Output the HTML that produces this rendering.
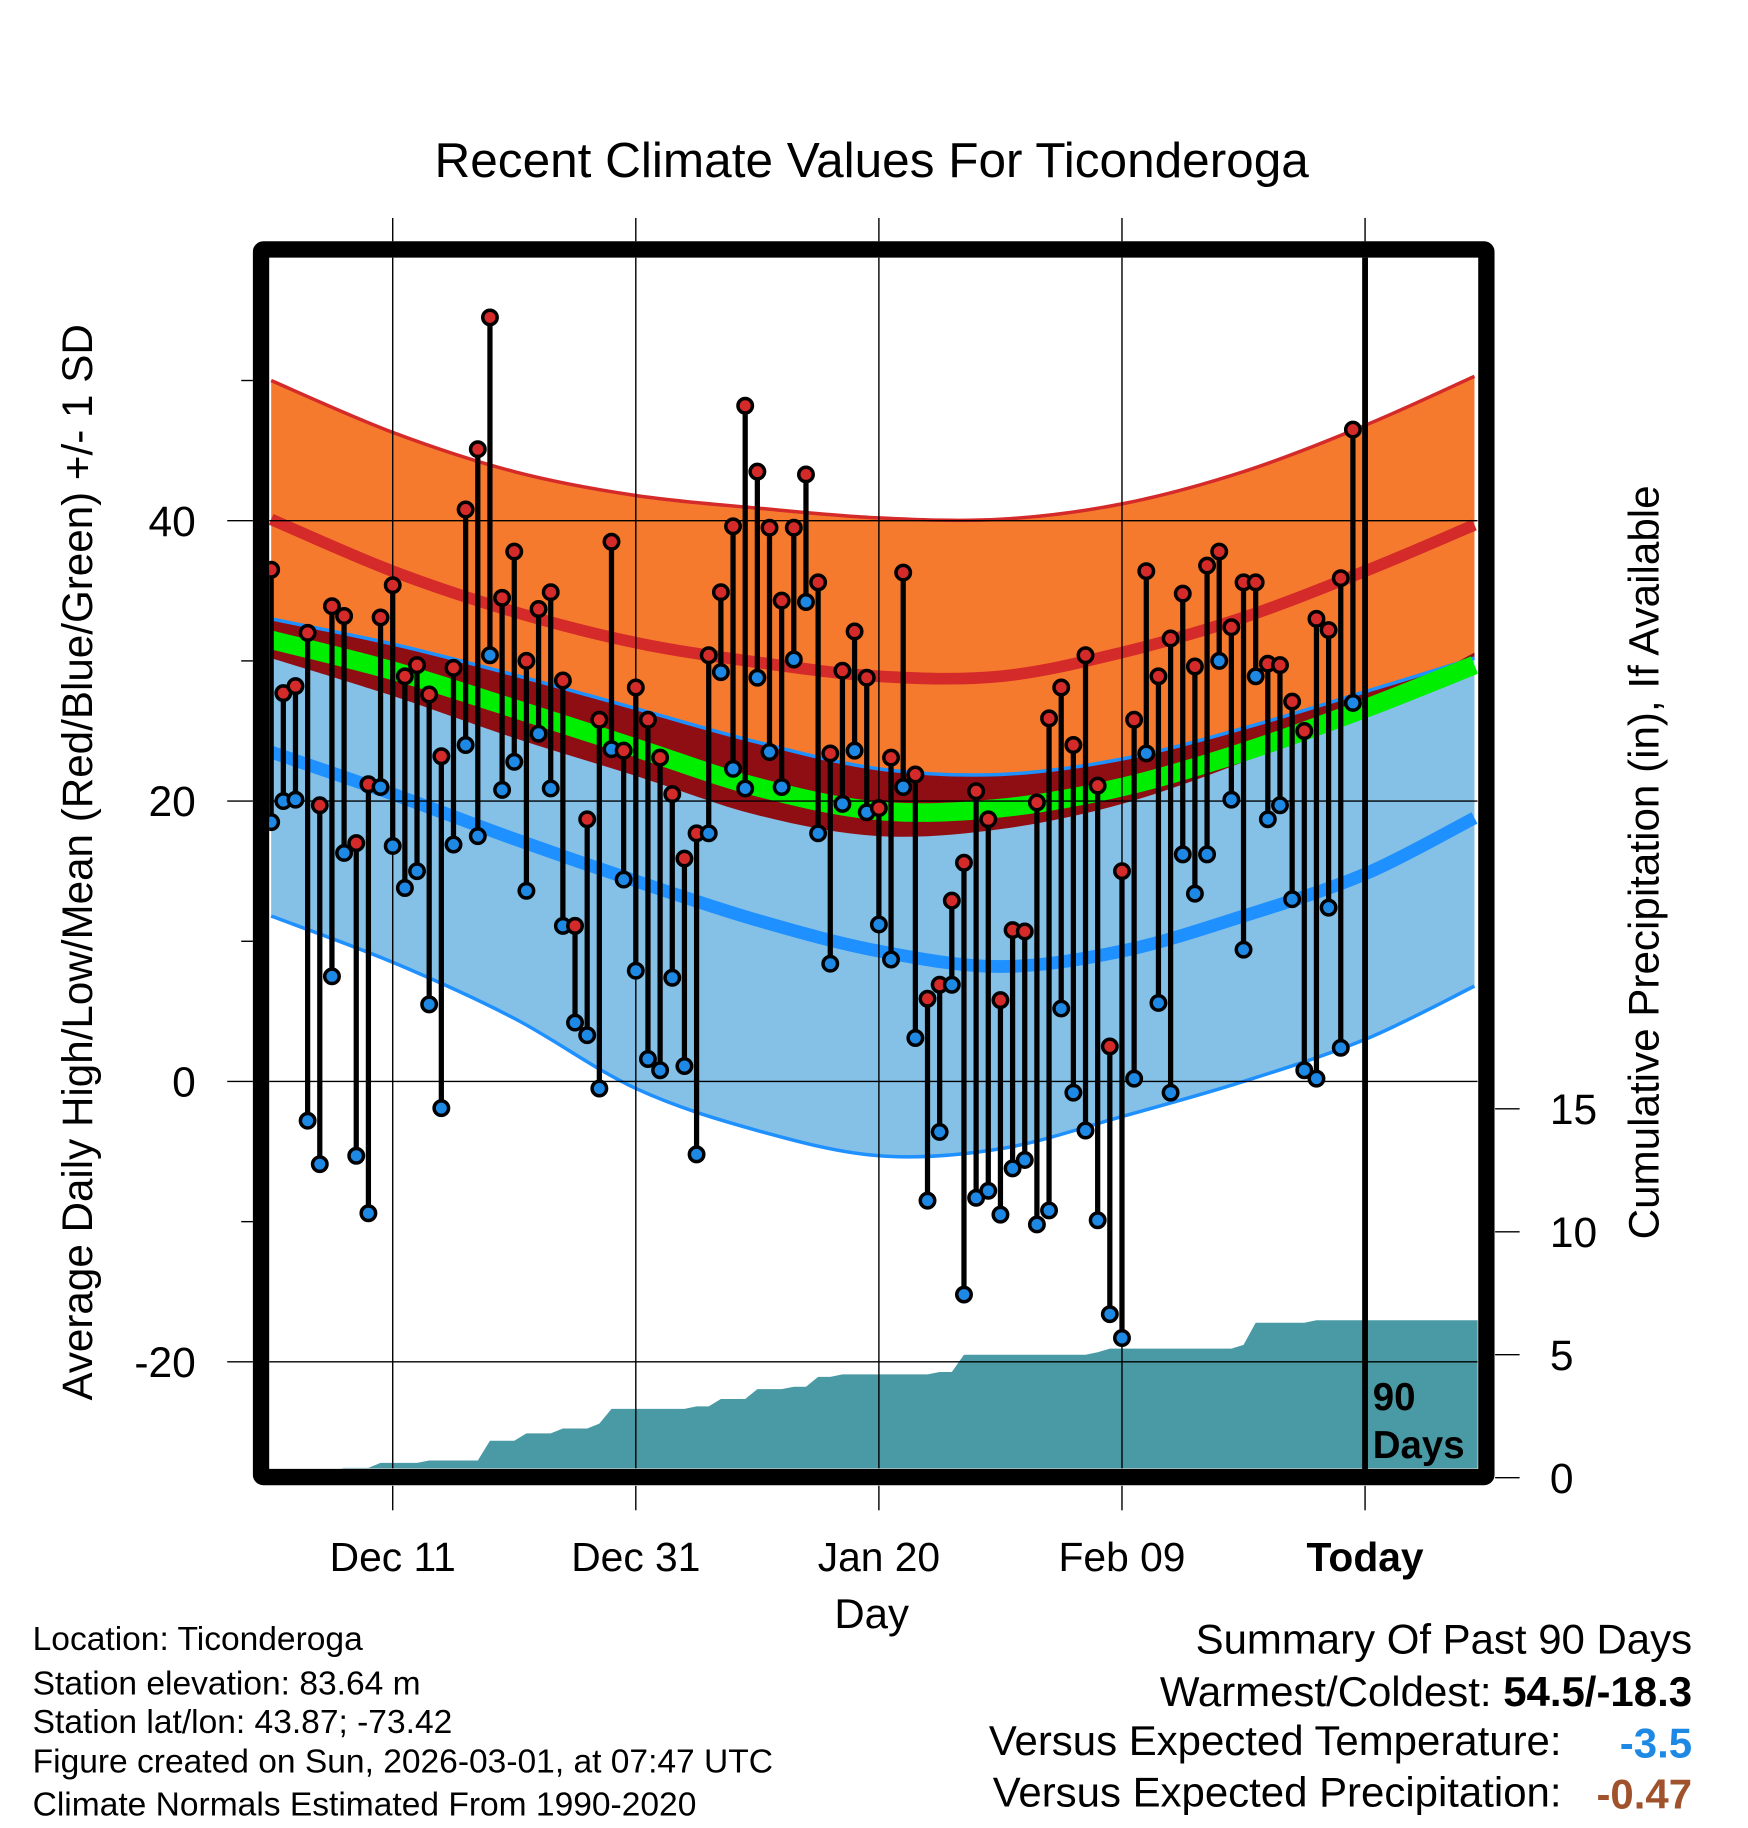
<!DOCTYPE html>
<html><head><meta charset="utf-8"><style>
html,body{margin:0;padding:0;background:#fff;}
svg{display:block;font-family:"Liberation Sans",sans-serif;}
</style></head><body>
<svg id="chart" width="1748" height="1828" viewBox="0 0 1500 1568.6" xmlns="http://www.w3.org/2000/svg">
<defs><clipPath id="plotclip"><rect x="231" y="221" width="1037" height="1039"/></clipPath></defs>
<rect x="0" y="0" width="1500" height="1568.6" fill="#fff"/>
<text x="748" y="152" font-size="42.5" text-anchor="middle">Recent Climate Values For Ticonderoga</text>
<g id="plot" clip-path="url(#plotclip)"></g>
<g id="over"></g>
<rect x="224" y="214" width="1051.5" height="1053.5" rx="2" fill="none" stroke="#000" stroke-width="14"/>
<g id="axes"></g>
<text x="748" y="1397" font-size="36" text-anchor="middle">Day</text>
<text transform="translate(79,740) rotate(-90)" font-size="36.2" text-anchor="middle">Average Daily High/Low/Mean (Red/Blue/Green) +/- 1 SD</text>
<text transform="translate(1423,740) rotate(-90)" font-size="36.2" text-anchor="middle">Cumulative Precipitation (in), If Available</text>
<text x="1178" y="1210" font-size="33" font-weight="bold">90</text>
<text x="1178" y="1251" font-size="33" font-weight="bold">Days</text>
<g font-size="28.8">
<text x="28" y="1416">Location: Ticonderoga</text>
<text x="28" y="1454">Station elevation: 83.64 m</text>
<text x="28" y="1487">Station lat/lon: 43.87; -73.42</text>
<text x="28" y="1521">Figure created on Sun, 2026-03-01, at 07:47 UTC</text>
<text x="28" y="1558">Climate Normals Estimated From 1990-2020</text>
</g>
<g font-size="36">
<text x="1452" y="1419" text-anchor="end">Summary Of Past 90 Days</text>
<text x="1452" y="1464" text-anchor="end">Warmest/Coldest: <tspan font-weight="bold">54.5/-18.3</tspan></text>
<text x="1340" y="1506" text-anchor="end">Versus Expected Temperature:</text>
<text x="1452" y="1508" text-anchor="end" font-weight="bold" fill="#1e88e5">-3.5</text>
<text x="1340" y="1550" text-anchor="end">Versus Expected Precipitation:</text>
<text x="1452" y="1552" text-anchor="end" font-weight="bold" fill="#a0522d">-0.47</text>
</g>
</svg>
<script>
const normDays = [0,10,20,30,40,50,60,70,80,90,99];
const highUp = [50,46.3,43.5,41.8,40.9,40.2,40.1,41.2,43.5,46.8,50.3];
const highMean = [40.1,36.4,33.5,31.3,29.9,28.9,28.9,30.6,33.1,36.4,39.7];
const highDn = [30.2,27.5,24.5,21.8,19.0,17.5,18.0,19.8,22.8,26.5,30.6];
const meanT = [31.5,29.3,26.6,23.8,21.0,19.3,19.5,21.0,23.5,26.6,29.7];
const lowUp = [33.0,31.2,29.0,26.6,24.2,22.3,21.9,23.0,25.2,27.8,30.2];
const lowMean = [23.5,20.5,17.3,14.3,11.5,9.3,8.2,9.3,11.8,14.8,18.8];
const lowDn = [11.8,8.5,4.5,-0.5,-3.5,-5.3,-4.8,-2.5,0.0,3.0,6.8];
const highs = [36.5,27.7,28.2,32,19.7,33.9,33.2,17,21.2,33.1,35.4,28.9,29.7,27.6,23.2,29.5,40.8,45.1,54.5,34.5,37.8,30,33.7,34.9,28.6,11.1,18.7,25.8,38.5,23.6,28.1,25.8,23.1,20.5,15.9,17.7,30.4,34.9,39.6,48.2,43.5,39.5,34.3,39.5,43.3,35.6,23.4,29.3,32.1,28.8,19.5,23.1,36.3,21.9,5.9,6.9,12.9,15.6,20.7,18.7,5.8,10.8,10.7,19.9,25.9,28.1,24,30.4,21.1,2.5,15,25.8,36.4,28.9,31.6,34.8,29.6,36.8,37.8,32.4,35.6,35.6,29.8,29.7,27.1,25,33,32.2,35.9,46.5];
const lows = [18.5,20,20.1,-2.8,-5.9,7.5,16.3,-5.3,-9.4,21,16.8,13.8,15,5.5,-1.9,16.9,24,17.5,30.4,20.8,22.8,13.6,24.8,20.9,11.1,4.2,3.3,-0.5,23.7,14.4,7.9,1.6,0.8,7.4,1.1,-5.2,17.7,29.2,22.3,20.9,28.8,23.5,21,30.1,34.2,17.7,8.4,19.8,23.6,19.2,11.2,8.7,21,3.1,-8.5,-3.6,6.9,-15.2,-8.3,-7.8,-9.5,-6.2,-5.6,-10.2,-9.2,5.2,-0.8,-3.5,-9.9,-16.6,-18.3,0.2,23.4,5.6,-0.8,16.2,13.4,16.2,30,20.1,9.4,28.9,18.7,19.7,13,0.8,0.2,12.4,2.4,27];
const precip = [0.3,0.3,0.3,0.3,0.3,0.3,0.4,0.4,0.4,0.6,0.6,0.6,0.6,0.7,0.7,0.7,0.7,0.7,1.5,1.5,1.5,1.8,1.8,1.8,2.0,2.0,2.0,2.2,2.8,2.8,2.8,2.8,2.8,2.8,2.8,2.9,2.9,3.2,3.2,3.2,3.6,3.6,3.6,3.7,3.7,4.1,4.1,4.2,4.2,4.2,4.2,4.2,4.2,4.2,4.2,4.3,4.3,5.0,5.0,5.0,5.0,5.0,5.0,5.0,5.0,5.0,5.0,5.0,5.1,5.25,5.25,5.25,5.25,5.25,5.25,5.25,5.25,5.25,5.25,5.25,5.4,6.3,6.3,6.3,6.3,6.3,6.4,6.4,6.4,6.4];
const yTicks = [40,20,0,-20];
const yMinor = [50,30,10,-10];
const pTicks = [0,5,10,15];
const xTickDays = [10,30,50,70,90];
const xTickLabels = ["Dec 11","Dec 31","Jan 20","Feb 09","Today"];

const NS="http://www.w3.org/2000/svg";
const X = d => 232.7 + 10.43*d;
const Y = v => 928 - 12.03*v;
const P = p => 1268 - 21.1*p;
const plot=document.getElementById('plot'), axes=document.getElementById('axes'), over=document.getElementById('over');
function mk(tag, attrs, parent){const e=document.createElementNS(NS,tag);for(const k in attrs)e.setAttribute(k,attrs[k]);parent.appendChild(e);return e;}
function pts(arr){return normDays.map((d,i)=>[X(d),Y(arr[i])]);}
function spline(p){let s=`M${p[0][0]},${p[0][1]}`;for(let i=0;i<p.length-1;i++){const p0=p[i-1]||p[i],p1=p[i],p2=p[i+1],p3=p[i+2]||p2;const c1=[p1[0]+(p2[0]-p0[0])/6,p1[1]+(p2[1]-p0[1])/6],c2=[p2[0]-(p3[0]-p1[0])/6,p2[1]-(p3[1]-p1[1])/6];s+=` C${c1[0]},${c1[1]} ${c2[0]},${c2[1]} ${p2[0]},${p2[1]}`;}return s;}
function splineRev(p){return spline(p.slice().reverse()).replace(/^M/,' L');}
function band(a,b,fill,name){const e=mk('path',{d:spline(pts(a))+splineRev(pts(b))+' Z',fill:fill},plot);}
function line(a,color,w,name){const e=mk('path',{d:spline(pts(a)),fill:'none',stroke:color,'stroke-width':w},plot);}

band(highUp,highDn,'#f57a2d','high-sd-band');
band(lowUp,lowDn,'#85c1e6','low-sd-band');
band(lowUp,highDn,'#8f0e14','overlap-band');
line(highUp,'#d42a2a',3,'high-plus-sd-line');
line(highMean,'#d42a2a',10,'high-mean-line');
line(lowUp,'#1e90ff',3,'low-plus-sd-line');
line(lowDn,'#1e90ff',3,'low-minus-sd-line');
line(lowMean,'#1e90ff',11,'low-mean-line');
line(meanT,'#00ee00',16,'mean-line');

let pd=`M${X(0)-3},1262`;
precip.forEach((v,i)=>{pd+=` L${i===0?X(0)-3:X(i)},${P(v)}`;});
pd+=` L1270,${P(precip[precip.length-1])} L1270,1262 Z`;
const pp=mk('path',{d:pd,fill:'#4a9aa5'},plot);



yTicks.forEach(v=>{const g=mk('line',{x1:231,x2:1268,y1:Y(v),y2:Y(v),stroke:'#000','stroke-width':1.2},plot);

});
xTickDays.forEach((d,i)=>{if(i===4)return;const g=mk('line',{x1:X(d),x2:X(d),y1:221,y2:1260,stroke:'#000','stroke-width':1.2},plot);

});

highs.forEach((h,i)=>{const s=mk('line',{x1:X(i),x2:X(i),y1:Y(h),y2:Y(lows[i]),stroke:'#000','stroke-width':4.5},plot);

});
highs.forEach((h,i)=>{const c=mk('circle',{cx:X(i),cy:Y(h),r:6.2,fill:'#d42a2a',stroke:'#000','stroke-width':3},plot);


const c2=mk('circle',{cx:X(i),cy:Y(lows[i]),r:6.2,fill:'#1e88e5',stroke:'#000','stroke-width':3},plot);

});

const tl=mk('line',{x1:X(90),x2:X(90),y1:221,y2:1262,stroke:'#000','stroke-width':5},over);



yTicks.forEach(v=>{mk('line',{x1:195,x2:217,y1:Y(v),y2:Y(v),stroke:'#000','stroke-width':1.2},axes);
const t=mk('text',{x:168,y:Y(v)+13,'font-size':36.5,'text-anchor':'end'},axes);t.textContent=v;

});
yMinor.forEach(v=>{mk('line',{x1:207,x2:217,y1:Y(v),y2:Y(v),stroke:'#000','stroke-width':1.2},axes);});
pTicks.forEach(p=>{mk('line',{x1:1283,x2:1304,y1:P(p),y2:P(p),stroke:'#000','stroke-width':1.2},axes);
const t=mk('text',{x:1330,y:P(p)+13,'font-size':36.5},axes);t.textContent=p;

});
xTickDays.forEach((d,i)=>{mk('line',{x1:X(d),x2:X(d),y1:187,y2:207,stroke:'#000','stroke-width':1.2},axes);
mk('line',{x1:X(d),x2:X(d),y1:1275,y2:1296,stroke:'#000','stroke-width':1.2},axes);
const t=mk('text',{x:X(d),y:1348,'font-size':35,'text-anchor':'middle','font-weight':i===4?'bold':'normal'},axes);t.textContent=xTickLabels[i];

});
</script>
</body></html>
